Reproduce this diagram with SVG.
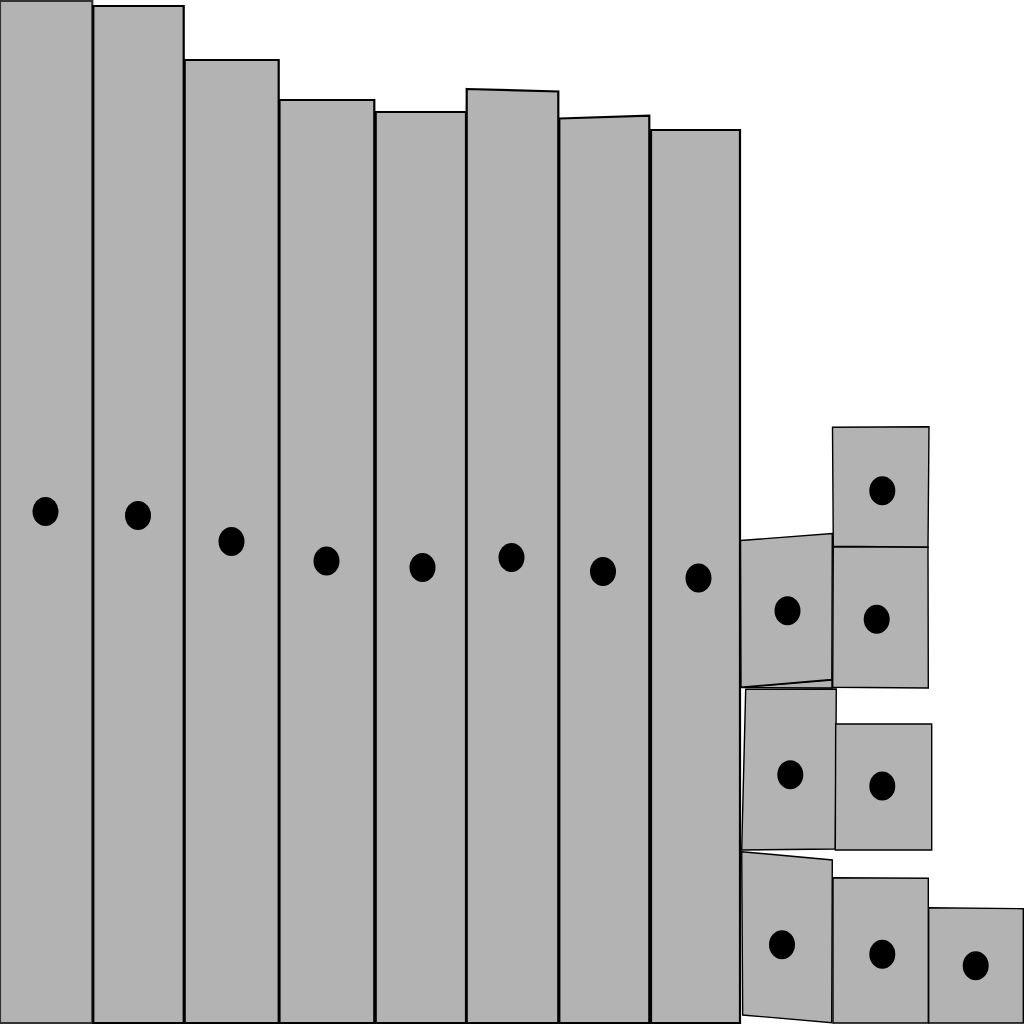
<svg xmlns="http://www.w3.org/2000/svg" width="1024" height="1024" viewBox="0 0 1024 1024">
<style>
.bar{fill:#b3b3b3;stroke:#000;stroke-width:2.2;stroke-linejoin:miter}
.box{fill:#b3b3b3;stroke:#000;stroke-width:1.4;stroke-linejoin:miter}
.dot{fill:#000}
</style>
<rect width="1024" height="1024" fill="#fff"/>
<g id="bars">
<g id="bar1"><polygon class="bar" points="0,1 92.3,1 92.3,1023 0,1023" style="stroke:#333"/><ellipse class="dot" cx="45.5" cy="511.5" rx="13" ry="14.5"/></g>
<g id="bar2"><polygon class="bar" points="93.3,6 183.7,6 183.7,1023 93.3,1023"/><ellipse class="dot" cx="138" cy="515.5" rx="13" ry="14.5"/></g>
<g id="bar3"><polygon class="bar" points="184.7,60 278.7,60 278.7,1023 184.7,1023"/><ellipse class="dot" cx="231.5" cy="541.5" rx="13" ry="14.5"/></g>
<g id="bar4"><polygon class="bar" points="279.5,100 374.3,100 374.3,1023 279.5,1023"/><ellipse class="dot" cx="326.5" cy="561" rx="13" ry="14.5"/></g>
<g id="bar5"><polygon class="bar" points="375.7,112 466,112 466,1023 375.7,1023"/><ellipse class="dot" cx="422.5" cy="567.5" rx="13" ry="14.5"/></g>
<g id="bar6"><polygon class="bar" points="466.7,89 558.3,91.5 558.3,1023 466.7,1023"/><ellipse class="dot" cx="511.5" cy="557.5" rx="13" ry="14.5"/></g>
<g id="bar7"><polygon class="bar" points="559.3,118.5 649.3,115.7 649.3,1023 559.3,1023"/><ellipse class="dot" cx="603" cy="571.5" rx="13" ry="14.5"/></g>
<g id="bar8"><polygon class="bar" points="651,130 740,130 740,1023 651,1023"/><ellipse class="dot" cx="698.5" cy="578" rx="13" ry="14.5"/></g>
</g>
<g id="boxes">
<g id="sliver"><polygon class="box" points="741,687.5 832,680 832,688"/></g>
<g id="boxA"><polygon class="box" points="740.5,540.5 832.3,533.5 831.8,679.5 741,687.3"/><ellipse class="dot" cx="787.5" cy="610.7" rx="13" ry="14.5"/></g>
<g id="boxB"><polygon class="box" points="832.5,427.3 929,426.7 928,547.3 833.3,546.3"/><ellipse class="dot" cx="882.3" cy="490.7" rx="13" ry="14.5"/></g>
<g id="boxC"><polygon class="box" points="833.3,546.8 928,547.3 928.3,688 832.7,687.3"/><ellipse class="dot" cx="876.7" cy="619.3" rx="13" ry="14.5"/></g>
<g id="boxD"><polygon class="box" points="745.7,689.3 836.3,689 835.3,849 741.7,850"/><ellipse class="dot" cx="790.3" cy="774.7" rx="13" ry="14.5"/></g>
<g id="boxE"><polygon class="box" points="835.7,724 931.7,724 931.7,850 835.3,850"/><ellipse class="dot" cx="882.3" cy="786" rx="13" ry="14.5"/></g>
<g id="boxF"><polygon class="box" points="741.7,851.7 832.3,860 831.7,1022.7 742.7,1015"/><ellipse class="dot" cx="782" cy="944.7" rx="13" ry="14.5"/></g>
<g id="boxG"><polygon class="box" points="833,877.7 928.3,878.3 928.3,1023 833,1023"/><ellipse class="dot" cx="882.3" cy="954.3" rx="13" ry="14.5"/></g>
<g id="boxH"><polygon class="box" points="928.7,907.7 1023.3,908.7 1023.3,1023 928.7,1023"/><ellipse class="dot" cx="975.7" cy="965.7" rx="13" ry="14.5"/></g>
</g>
<g id="connectors"/>
</svg>
